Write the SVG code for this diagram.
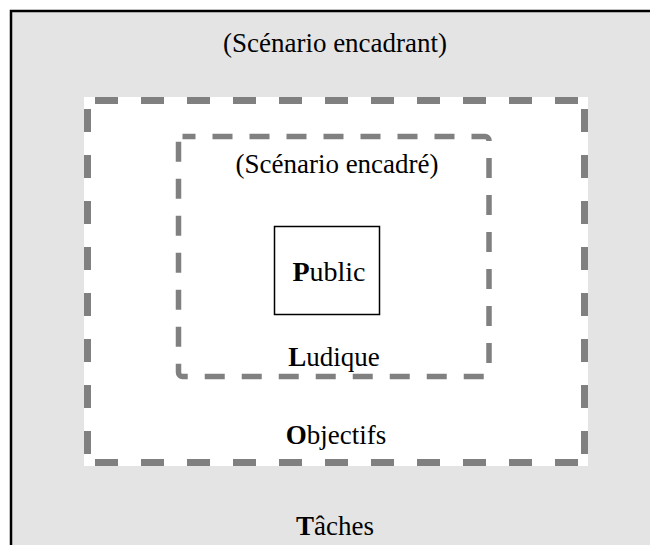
<svg xmlns="http://www.w3.org/2000/svg" width="650" height="545" viewBox="0 0 650 545">
<style>
.t{font-family:"Liberation Serif","Times New Roman",serif;font-size:27px;fill:#000;text-anchor:middle}
.b{font-weight:bold}
.d{stroke:#808080;stroke-width:7;fill:none;stroke-dasharray:23 23}
</style>
<rect width="650" height="545" fill="#fff"/>
<g id="taches">
<rect x="10" y="10" width="640" height="535" fill="#e4e4e4"/>
<path d="M11 545 V11 H650" fill="none" stroke="#000" stroke-width="2.5"/>
<text class="t" x="335" y="52">(Scénario encadrant)</text>
<text class="t" x="335" y="535"><tspan class="b">T</tspan>âches</text>
</g>
<g id="objectifs">
<rect x="84" y="97" width="504" height="369" fill="#fff"/>
<line class="d" x1="95" y1="100.5" x2="579" y2="100.5"/>
<line class="d" x1="95" y1="462.5" x2="579" y2="462.5"/>
<line class="d" x1="87.5" y1="109" x2="87.5" y2="455"/>
<line class="d" x1="584.5" y1="109" x2="584.5" y2="455"/>
<text class="t" x="336" y="444"><tspan class="b">O</tspan>bjectifs</text>
</g>
<g id="ludique">
<rect x="178.5" y="136.5" width="310.5" height="240" rx="4" fill="none" stroke="#808080" stroke-width="5.5" stroke-dasharray="20 17" stroke-dashoffset="7"/>
<text class="t" x="337" y="173">(Scénario encadré)</text>
<text class="t" x="334" y="366"><tspan class="b">L</tspan>udique</text>
</g>
<g id="public">
<rect x="274.5" y="226.5" width="105" height="88" fill="#fff" stroke="#000" stroke-width="1.5"/>
<text class="t" x="329" y="281" style="font-size:28px"><tspan class="b">P</tspan>ublic</text>
</g>
<g id="connectors"/>
</svg>
